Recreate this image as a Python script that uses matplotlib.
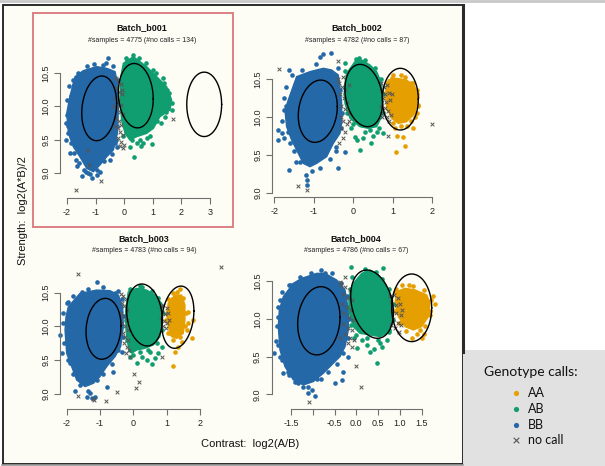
import numpy as np
import matplotlib
matplotlib.use('Agg')
import matplotlib.pyplot as plt
from matplotlib.patches import Rectangle

# ---------------- data ----------------
BATCHES = ["Batch_b001", "Batch_b002", "Batch_b003", "Batch_b004"]
N_SAMPLES = [4775, 4782, 4783, 4786]
N_NOCALL = [134, 87, 94, 67]
GENOTYPES = ["AA", "AB", "BB"]
LEGEND_LABELS = ["AA", "AB", "BB", "no call"]

X_TICKS_123 = [-2, -1, 0, 1, 2]
X_TICKS_1 = [-2, -1, 0, 1, 2, 3]
X_TICKS_4 = [-1.5, -1.0, -0.5, 0.0, 0.5, 1.0, 1.5]
X_TICKLABELS_4 = ["-1.5", "", "-0.5", "0.0", "0.5", "1.0", "1.5"]
Y_TICKS = [9.0, 9.5, 10.0, 10.5]
Y_TICKLABELS = ["9.0", "9.5", "10.0", "10.5"]

# cluster ellipses: (centre x, half-width x, centre y, half-height y, tilt)
P1_ELL = {"BB": (-0.874, 0.61, 9.97, 0.485, 0.15), "AB": (0.405, 0.61, 10.16, 0.483, -0.10), "AA": (2.797, 0.61, 10.03, 0.483, 0.0)}
P2_ELL = {"BB": (-0.899, 0.494, 10.075, 0.411, 0.15), "AB": (0.266, 0.477, 10.282, 0.411, -0.20), "AA": (1.19, 0.456, 10.234, 0.407, 0.0)}
P3_ELL = {"BB": (-0.895, 0.525, 9.965, 0.451, 0.10), "AB": (0.335, 0.535, 10.17, 0.459, -0.15), "AA": (1.335, 0.485, 10.137, 0.461, 0.20)}
P4_ELL = {"BB": (-0.861, 0.486, 9.973, 0.452, 0.10), "AB": (0.36, 0.49, 10.193, 0.452, -0.25), "AA": (1.27, 0.459, 10.145, 0.448, 0.0)}

# dense cores of each called cluster (outline of the solid area)
P1_BB_CORE = [(-1.72,10.445),(-1.43,10.535),(-0.96,10.595),(-0.61,10.57),(-0.32,10.52),(-0.205,10.295),(-0.205,9.945),(-0.24,9.595),(-0.38,9.345),(-0.61,9.245),(-0.85,9.12),(-1.08,9.02),(-1.31,9.07),(-1.55,9.245),(-1.78,9.395),(-1.95,9.595),(-2.01,9.895),(-1.9,10.145)]
P1_AB_CORE = [(-0.03,10.645),(0.32,10.745),(0.785,10.595),(1.135,10.445),(1.485,10.295),(1.66,10.095),(1.6,9.945),(1.25,9.845),(1.02,9.67),(0.785,9.595),(0.435,9.545),(0.2,9.495),(0.03,9.595),(-0.09,9.795),(-0.15,10.095),(-0.12,10.445)]
P1_AA_CORE = []
P2_BB_CORE = [(-1.646,10.223),(-1.435,10.531),(-1.097,10.597),(-0.759,10.641),(-0.549,10.619),(-0.38,10.553),(-0.338,10.399),(-0.295,10.179),(-0.295,9.915),(-0.338,9.783),(-0.506,9.651),(-0.675,9.475),(-0.928,9.387),(-1.097,9.343),(-1.266,9.387),(-1.392,9.519),(-1.561,9.695),(-1.688,9.871),(-1.73,10.091)]
P2_AB_CORE = [(-0.169,10.575),(0.042,10.729),(0.211,10.751),(0.422,10.685),(0.591,10.597),(0.717,10.443),(0.743,10.223),(0.717,10.003),(0.591,9.871),(0.38,9.849),(0.169,9.871),(-0.084,9.981),(-0.211,10.179),(-0.228,10.399)]
P2_AA_CORE = [(0.886,10.487),(1.097,10.509),(1.35,10.487),(1.561,10.399),(1.629,10.223),(1.561,10.047),(1.35,9.937),(1.139,9.915),(0.97,9.981),(0.844,10.135),(0.81,10.311)]
P3_BB_CORE = [(-1.95,10.293),(-1.6,10.49),(-1.1,10.539),(-0.7,10.53),(-0.45,10.465),(-0.32,10.293),(-0.3,9.997),(-0.38,9.701),(-0.55,9.553),(-0.8,9.405),(-1.0,9.257),(-1.2,9.158),(-1.45,9.109),(-1.7,9.207),(-1.85,9.405),(-2.0,9.602),(-2.05,9.947),(-2.02,10.145)]
P3_AB_CORE = [(-0.15,10.515),(0.1,10.564),(0.4,10.539),(0.65,10.465),(0.85,10.342),(0.88,10.095),(0.8,9.849),(0.6,9.725),(0.35,9.676),(0.1,9.651),(-0.05,9.602),(-0.15,9.701),(-0.22,9.947),(-0.23,10.243)]
P3_AA_CORE = [(1.05,10.342),(1.25,10.465),(1.45,10.465),(1.55,10.317),(1.55,10.095),(1.5,9.898),(1.3,9.824),(1.15,9.849),(1.05,9.997),(1.0,10.194)]
P4_BB_CORE = [(-1.676,10.293),(-1.446,10.469),(-1.255,10.535),(-0.911,10.601),(-0.719,10.601),(-0.452,10.513),(-0.26,10.381),(-0.184,10.116),(-0.184,9.852),(-0.26,9.631),(-0.375,9.499),(-0.528,9.411),(-0.758,9.278),(-0.987,9.168),(-1.217,9.124),(-1.446,9.19),(-1.638,9.366),(-1.753,9.587),(-1.791,9.896),(-1.768,10.116)]
P4_AB_CORE = [(-0.069,10.469),(0.122,10.601),(0.314,10.646),(0.505,10.579),(0.658,10.469),(0.773,10.337),(0.849,10.116),(0.811,9.94),(0.696,9.807),(0.543,9.763),(0.314,9.785),(0.084,9.807),(-0.069,9.896),(-0.161,10.072),(-0.176,10.293)]
P4_AA_CORE = [(0.926,10.359),(1.117,10.403),(1.347,10.381),(1.615,10.315),(1.691,10.204),(1.653,10.028),(1.5,9.896),(1.309,9.852),(1.117,9.896),(0.964,10.028),(0.888,10.204)]

# individually visible samples around the cores
P1_BB_PTS = [(-2.01,9.87),(-2.03,9.5),(-1.95,9.7),(-1.64,9.11),(-1.46,8.96),(-1.34,9.02),(-0.55,10.72),(-1.86,10.15),(-1.76,10.32),(-0.26,9.395),(-0.44,9.285),(-0.96,8.97),(-0.85,9.02),(-1.9,9.3),(-1.7,9.2),(-0.3,9.5),(-1.2,8.98),(-0.7,9.18),(-1.6,10.5),(-1.05,10.63),(-0.75,10.62),
             (-2.0,10.1),(-1.98,9.6),(-2.05,9.75),(-1.92,10.3),(-1.85,9.45),(-1.75,9.3),(-1.58,9.15),(-1.4,9.05),(-1.25,9.0),(-1.12,8.93),(-0.95,9.05),(-0.5,9.2),(-0.33,9.45),(-0.25,9.7),(-0.22,10.4),(-0.4,10.6),(-1.3,10.6),(-1.8,10.4),(-0.65,10.65)]
P1_AB_PTS = [(0.3,10.77),(0.96,9.435),(0.355,9.245),(0.2,9.395),(1.43,9.845),(1.66,9.945),(0.67,9.445),(0.06,9.67),(1.55,10.2),(1.3,9.75),(0.9,9.55),(0.1,10.7),(1.0,10.55),(1.4,10.35),(0.55,9.5),
             (0.05,10.72),(0.5,10.72),(0.75,10.65),(1.1,10.5),(1.35,10.42),(1.5,10.25),(1.68,10.05),(1.45,9.92),(1.15,9.78),(0.8,9.52),(0.45,9.45),(0.28,9.5),(-0.05,9.55),(0.6,9.4)]
P1_AA_PTS = []
P2_BB_PTS = [(-1.899,9.827),(-1.814,9.783),(-1.747,9.717),(-1.62,9.299),(-1.198,9.233),(-1.165,9.167),(-1.18,9.1),(-0.38,9.33),(-0.211,9.541),(-0.759,10.826),(-0.565,10.839),(-1.62,10.619),(-1.747,10.245),(-1.747,10.09),(-1.6,9.65),(-0.84,10.79),(-1.45,9.4),(-0.45,9.55),
             (-1.7,10.4),(-1.55,10.55),(-1.3,10.62),(-0.95,10.7),(-0.4,10.65),(-0.33,10.35),(-0.28,10.05),(-0.3,9.85),(-0.45,9.6),(-0.6,9.45),(-0.85,9.33),(-1.05,9.28),(-1.35,9.4),(-1.5,9.55),(-1.65,9.8),(-1.8,9.95),(-1.7,10.15),(-1.9,9.7)]
P2_AB_PTS = [(-0.211,10.707),(0.068,10.76),(0.084,9.695),(0.169,9.563),(0.439,9.66),(0.422,9.827),(0.743,9.792),(0.591,9.805),(0.042,9.739),(0.15,10.78),(-0.05,9.85),
             (-0.2,10.6),(0.3,10.75),(0.55,10.65),(0.7,10.5),(0.76,10.3),(0.75,10.05),(0.65,9.85),(0.3,9.8),(0.0,9.9),(-0.15,10.05),(-0.22,10.3),(0.5,9.75),(0.25,9.72)]
P2_AA_PTS = [(1.072,9.541),(1.266,9.739),(1.519,9.849),(0.97,10.509),(1.6,10.267),(1.646,10.157),(1.2,10.55),(1.45,10.45),(1.05,9.85),(1.35,9.88),(0.95,10.05),(1.55,10.0),(1.62,10.35),
             (0.85,10.45),(1.0,10.55),(1.3,10.52),(1.5,10.45),(1.62,10.3),(1.65,10.15),(1.6,10.05),(1.45,9.95),(1.2,9.88),(1.0,9.92),(0.88,10.1),(1.3,9.62),(1.1,9.75)]
P3_BB_PTS = [(-1.1,10.653),(-2.2,9.873),(-1.9,9.454),(-1.55,9.306),(-1.6,9.133),(-1.3,9.01),(-1.15,8.961),(-0.8,9.109),(-0.6,9.331),(-0.35,9.627),(-1.55,10.515),(-1.95,10.367),(-1.25,8.936),(-2.1,10.2),(-2.15,9.6),(-0.45,10.52),
             (-2.0,10.35),(-1.8,10.45),(-1.35,10.55),(-0.9,10.58),(-0.55,10.5),(-0.35,10.4),(-0.28,10.15),(-0.32,9.85),(-0.45,9.65),(-0.65,9.45),(-0.9,9.3),(-1.1,9.2),(-1.35,9.05),(-1.55,9.18),(-1.8,9.3),(-1.95,9.5),(-2.08,9.75),(-2.1,10.05),(-1.75,9.05),(-1.4,8.95)]
P3_AB_PTS = [(0.1,9.454),(0.4,9.503),(0.65,9.528),(0.0,9.577),(-0.1,9.553),(0.75,9.602),(0.25,9.55),(0.5,9.62),(0.2,10.6),
             (-0.1,10.55),(0.25,10.58),(0.55,10.52),(0.75,10.42),(0.88,10.2),(0.86,9.95),(0.7,9.75),(0.45,9.65),(0.2,9.62),(-0.1,9.65),(-0.2,9.8),(-0.22,10.1),(0.85,9.7),(0.55,9.45)]
P3_AA_PTS = [(1.2,9.42),(1.75,9.824),(1.8,10.095),(1.65,10.219),(1.45,9.775),(1.3,10.515),(1.1,9.9),(1.6,9.95),(1.4,10.55),(1.15,10.4),
             (1.05,10.4),(1.2,10.5),(1.5,10.42),(1.58,10.2),(1.56,10.0),(1.4,9.85),(1.2,9.8),(1.05,9.9),(0.98,10.1),(1.35,9.7),(1.65,10.05),(1.25,9.62)]
P4_BB_PTS = [(-1.806,10.028),(-1.753,9.499),(-1.676,9.278),(-1.408,9.168),(-1.102,9.013),(-0.949,8.983),(-0.337,9.19),(-0.3,9.3),(-0.719,10.61),(-1.753,10.249),(-1.561,9.3),(-1.217,9.102),(-1.025,9.058),(-1.85,9.7),(-0.8,9.2),(-0.2,9.5),(-1.5,10.45),
             (-1.7,10.35),(-1.55,10.45),(-1.3,10.55),(-1.05,10.6),(-0.8,10.65),(-0.55,10.6),(-0.35,10.48),(-0.22,10.3),(-0.16,10.0),(-0.2,9.75),(-0.3,9.55),(-0.45,9.4),(-0.65,9.3),(-0.9,9.2),(-1.1,9.1),(-1.35,9.15),(-1.55,9.25),(-1.7,9.45),(-1.8,9.65),(-1.82,9.9),(-1.8,10.15),(-1.9,9.55),(-0.5,9.15)]
P4_AB_PTS = [(-0.122,10.69),(0.62,10.676),(0.008,9.609),(0.237,9.653),(0.467,9.411),(0.543,9.675),(0.696,9.719),(0.122,9.719),(0.314,9.565),(0.75,9.85),(-0.05,9.75),
             (-0.1,10.55),(0.2,10.66),(0.45,10.62),(0.6,10.52),(0.75,10.4),(0.84,10.2),(0.85,9.98),(0.75,9.82),(0.5,9.72),(0.25,9.75),(0.0,9.78),(-0.12,9.92),(-0.18,10.15),(-0.15,10.4),(0.4,9.6),(0.6,9.62)]
P4_AA_PTS = [(1.768,10.301),(1.27,9.741),(1.462,9.852),(0.888,10.359),(1.7,10.1),(1.0,9.95),(1.55,9.8),(1.2,10.45),
             (0.9,10.4),(1.05,10.45),(1.3,10.43),(1.55,10.38),(1.72,10.25),(1.7,10.05),(1.58,9.9),(1.4,9.8),(1.15,9.84),(0.98,9.95),(0.88,10.1),(1.5,9.75),(1.8,10.2)]

# samples without a call
P1_NOCALL = [(-0.30,10.42),(-0.22,10.38),(-0.12,10.33),(-0.27,10.28),(-0.18,10.22),(-0.08,10.18),(-0.31,10.12),(-0.2,10.08),(-0.12,10.02),(-0.25,9.97),(-0.15,9.92),(-0.05,9.88),(-0.28,9.83),(-0.18,9.78),(-0.1,9.72),(-0.22,9.67),(-0.13,9.62),(-0.04,9.57),(-0.2,9.52),(-0.1,9.47),(-0.02,9.42),(-0.15,9.40),(-0.06,10.25),(-0.35,10.0),(-0.33,9.7),(-0.05,9.38),
              (1.72,9.81),(-0.81,8.88),(-1.69,8.75),(-1.27,9.35),(-1.22,9.12)]
P2_NOCALL = [(-0.36,10.45),(-0.28,10.4),(-0.2,10.35),(-0.33,10.3),(-0.24,10.25),(-0.15,10.2),(-0.3,10.15),(-0.22,10.1),(-0.12,10.05),(-0.32,10.0),(-0.25,9.95),(-0.17,9.9),(-0.3,9.85),(-0.22,9.8),(-0.27,9.72),(-0.35,9.65),(-0.12,10.42),(-0.1,9.95),
              (0.7,10.45),(0.78,10.4),(0.86,10.42),(0.72,10.35),(0.8,10.3),(0.9,10.32),(0.75,10.25),(0.84,10.2),(0.93,10.22),(0.7,10.15),(0.8,10.12),(0.88,10.08),(0.76,10.05),(0.85,10.0),(0.95,10.02),(0.9,9.95),(0.72,10.0),(0.98,10.3),
              (-1.882,10.632),(-1.392,9.088),(-1.181,9.035),(-0.397,10.738),(-0.27,10.531),(-0.397,10.496),(0.886,9.748),(2.0,9.902)]
P3_NOCALL = [(-0.38,10.48),(-0.3,10.45),(-0.22,10.4),(-0.35,10.35),(-0.27,10.3),(-0.18,10.25),(-0.38,10.2),(-0.3,10.15),(-0.2,10.1),(-0.35,10.05),(-0.25,10.0),(-0.17,9.95),(-0.32,9.9),(-0.24,9.85),(-0.15,9.8),(-0.28,9.75),(-0.2,9.7),(-0.12,9.65),(-0.22,9.6),(-0.1,9.55),
              (0.82,10.3),(0.9,10.32),(1.0,10.28),(0.85,10.22),(0.95,10.18),(1.05,10.2),(0.83,10.12),(0.92,10.08),(1.02,10.05),(0.88,10.0),(0.97,9.97),(1.08,10.1),
              (-1.67,10.771),(2.63,10.885),(-1.67,8.97),(-1.17,8.911),(-0.82,8.897),(-0.5,9.035),(0.02,9.291),(0.18,9.183),(0.08,9.094),(0.87,9.543),(-1.2,8.93)]
P4_NOCALL = [(-0.35,10.45),(-0.25,10.42),(-0.15,10.38),(-0.3,10.33),(-0.2,10.28),(-0.1,10.25),(-0.33,10.2),(-0.22,10.15),(-0.12,10.12),(-0.28,10.07),(-0.18,10.02),(-0.08,9.98),(-0.3,9.93),(-0.2,9.88),(-0.1,9.85),(-0.25,9.8),(-0.15,9.75),(-0.05,9.72),(-0.2,9.68),(-0.1,9.63),(-0.38,9.75),
              (0.78,10.3),(0.86,10.32),(0.95,10.28),(0.8,10.22),(0.9,10.18),(1.0,10.2),(0.82,10.12),(0.92,10.08),(1.02,10.05),(0.85,10.0),(0.95,9.95),(1.03,9.92),(0.88,9.88),(0.98,9.83),(0.8,9.92),(1.05,10.12),
              (-0.26,10.557),(-1.079,8.903),(-0.008,9.375),(0.107,9.102),(-0.375,10.49)]

COLORS = {"AA": "#E69F00", "AB": "#109E71", "BB": "#2468A8"}
NOCALL_COLOR = "#555555"

# ---------------- figure ----------------
plt.rcParams['font.family'] = ['Liberation Sans', 'DejaVu Sans']
W, H = 605, 466
fig = plt.figure(figsize=(W / 100, H / 100), dpi=100)
fig.patch.set_facecolor('white')


def fx(px):
    return px / W


def fy(py):
    return 1 - py / H


# outer frame and background
fig.add_artist(plt.Line2D([0, 1], [fy(1), fy(1)], transform=fig.transFigure, color='#c8c8c8', lw=2))
fig.add_artist(Rectangle((fx(2.5), fy(464)), fx(460.5), (464 - 4.5) / H, transform=fig.transFigure,
                         facecolor='#FDFDF6', edgecolor='#1a1a1a', lw=1.3, zorder=0))
fig.add_artist(plt.Line2D([fx(462.5), fx(462.5)], [fy(4.5), fy(352)], transform=fig.transFigure, color='#2a2a2a', lw=2.2))
fig.add_artist(plt.Line2D([fx(2), fx(463)], [fy(464.5), fy(464.5)], transform=fig.transFigure, color='#9a9a9a', lw=1.2))
# highlight around first panel
fig.add_artist(Rectangle((fx(33), fy(227)), (233 - 33) / W, (227 - 13) / H, transform=fig.transFigure,
                         facecolor='none', edgecolor='#D8767C', lw=1.3, zorder=5))

panels = [
    dict(geom=(60, 225, 50, 198), xr=(-2, 67, 28.6), yr=(10.5, 73, 66.7), xt=X_TICKS_1, xtl=[str(v) for v in X_TICKS_1],
         ell=P1_ELL, core={"BB": P1_BB_CORE, "AB": P1_AB_CORE, "AA": P1_AA_CORE},
         pts={"BB": P1_BB_PTS, "AB": P1_AB_PTS, "AA": P1_AA_PTS}, nc=P1_NOCALL, title_xy=(142, 28)),
    dict(geom=(272.3, 440, 50, 197.3), xr=(-2, 274.3, 39.5), yr=(10.5, 79, 75.8), xt=X_TICKS_123, xtl=[str(v) for v in X_TICKS_123],
         ell=P2_ELL, core={"BB": P2_BB_CORE, "AB": P2_AB_CORE, "AA": P2_AA_CORE},
         pts={"BB": P2_BB_PTS, "AB": P2_AB_PTS, "AA": P2_AA_PTS}, nc=P2_NOCALL, title_xy=(357, 28)),
    dict(geom=(60, 225, 262, 409.3), xr=(-2, 66.7, 33.3), yr=(10.5, 292.7, 67.5), xt=X_TICKS_123, xtl=[str(v) for v in X_TICKS_123],
         ell=P3_ELL, core={"BB": P3_BB_CORE, "AB": P3_AB_CORE, "AA": P3_AA_CORE},
         pts={"BB": P3_BB_PTS, "AB": P3_AB_PTS, "AA": P3_AA_PTS}, nc=P3_NOCALL, title_xy=(144, 239)),
    dict(geom=(271.7, 440, 262, 409.3), xr=(-1.5, 291, 43.57), yr=(10.5, 281, 75.5), xt=X_TICKS_4, xtl=X_TICKLABELS_4,
         ell=P4_ELL, core={"BB": P4_BB_CORE, "AB": P4_AB_CORE, "AA": P4_AA_CORE},
         pts={"BB": P4_BB_PTS, "AB": P4_AB_PTS, "AA": P4_AA_PTS}, nc=P4_NOCALL, title_xy=(356, 239)),
]

AXCOL = '#707070'
t = np.linspace(0, 2 * np.pi, 200)

for i, p in enumerate(panels):
    l, r, tp, b = p['geom']
    ax = fig.add_axes([fx(l), fy(b), (r - l) / W, (b - tp) / H])
    ax.set_facecolor('none')
    xv, xp, xs = p['xr']
    yv, yp, ys = p['yr']
    ax.set_xlim(xv + (l - xp) / xs, xv + (r - xp) / xs)
    ax.set_ylim(yv - (b - yp) / ys, yv + (yp - tp) / ys)

    for g in ["BB", "AB", "AA"]:
        core = p['core'][g]
        if core:
            cx, cy = zip(*core)
            ax.fill(cx, cy, color=COLORS[g], lw=1.0, zorder=1)
        pts = p['pts'][g]
        if pts:
            px_, py_ = zip(*pts)
            ax.scatter(px_, py_, s=11, color=COLORS[g], lw=0, zorder=2, clip_on=False)
    nx, ny = zip(*p['nc'])
    ax.scatter(nx, ny, s=7, marker='x', color=NOCALL_COLOR, lw=0.7, zorder=3, clip_on=False)
    for g in ["BB", "AB", "AA"]:
        cx, sx, cy, sy, rho = p['ell'][g]
        ex = cx + sx * np.cos(t)
        ey = cy + sy * (rho * np.cos(t) + np.sqrt(1 - rho ** 2) * np.sin(t))
        ax.plot(ex, ey, color='black', lw=1.0, zorder=4, clip_on=False)

    for s in ['top', 'right']:
        ax.spines[s].set_visible(False)
    for s in ['left', 'bottom']:
        ax.spines[s].set_color(AXCOL)
        ax.spines[s].set_linewidth(0.8)
    ax.spines['left'].set_bounds(Y_TICKS[0], Y_TICKS[-1])
    ax.spines['bottom'].set_bounds(p['xt'][0], p['xt'][-1])
    ax.set_xticks(p['xt'])
    ax.set_xticklabels(p['xtl'])
    ax.set_yticks(Y_TICKS)
    ax.set_yticklabels(Y_TICKLABELS, rotation=90, va='center')
    ax.tick_params(length=4, width=0.8, color=AXCOL, labelsize=6.5, labelcolor='#222222', pad=3)

    tx, ty = p['title_xy']
    fig.text(fx(tx), fy(ty), BATCHES[i], ha='center', va='center', fontsize=6.5, fontweight='bold', color='#111111')
    fig.text(fx(tx), fy(ty + 12), f"#samples = {N_SAMPLES[i]} (#no calls = {N_NOCALL[i]})",
             ha='center', va='center', fontsize=5, color='#222222')

fig.text(fx(250), fy(444), "Contrast:  log2(A/B)", ha='center', va='center', fontsize=8, color='#111111')
fig.text(fx(23), fy(211), "Strength:  log2(A*B)/2", ha='center', va='center', rotation=90, fontsize=8, color='#111111')

# legend box
lax = fig.add_axes([fx(463), 0, (W - 463) / W, (H - 350) / H])
lax.set_xlim(463, W)
lax.set_ylim(H, 350)
lax.set_facecolor('#E1E1E1')
for s in lax.spines.values():
    s.set_visible(False)
lax.set_xticks([])
lax.set_yticks([])
lax.text(484, 372, "Genotype calls:", ha='left', va='center', fontsize=10, family=['Lato', 'DejaVu Sans'], color='#111111')
rows = [393, 409, 425, 440]
for lab, yy in zip(LEGEND_LABELS, rows):
    if lab in COLORS:
        lax.scatter([516], [yy], s=14, color=COLORS[lab], lw=0)
    else:
        lax.scatter([516], [yy], s=16, marker='x', color=NOCALL_COLOR, lw=0.8)
    lax.text(528, yy, lab, ha='left', va='center', fontsize=9, family=['Lato', 'DejaVu Sans'], color='#111111')

fig.savefig('out.png', dpi=100)
